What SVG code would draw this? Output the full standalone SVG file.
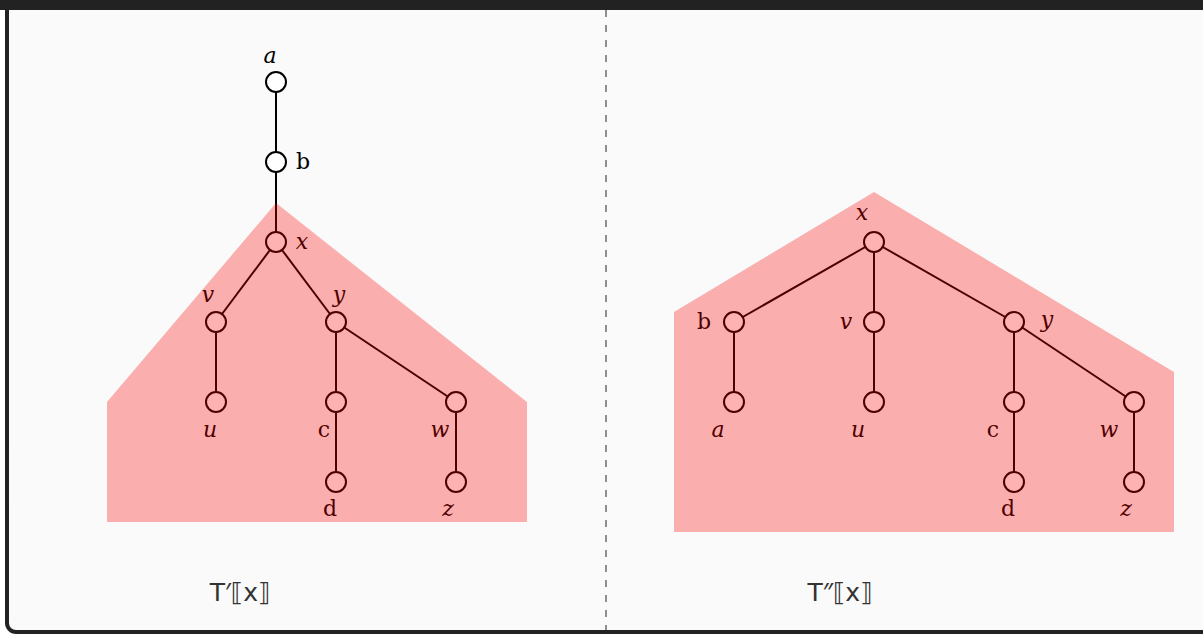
<svg xmlns="http://www.w3.org/2000/svg" width="1203" height="635" viewBox="0 0 1203 635">
<style>
.edge{stroke:#000;stroke-width:2;fill:none}
.node circle{fill:#fff;stroke:#000;stroke-width:2}
.lbl{font-family:"DejaVu Serif","Liberation Serif",serif;font-size:22px;fill:#000;text-anchor:middle}
.it{font-style:italic}
.cap{font-family:"DejaVu Sans","Liberation Sans",sans-serif;font-size:25px;fill:#333;text-anchor:middle}
.pr{font-family:"Noto Sans","DejaVu Sans",sans-serif}
.hl{fill:#ff0000;fill-opacity:0.3}
</style>
<rect x="0" y="0" width="1203" height="635" fill="#fff"/>
<rect x="7" y="-10" width="1210" height="642" rx="9" fill="#fafafa" stroke="#222" stroke-width="4"/>
<rect x="0" y="0" width="1203" height="10" fill="#222"/>
<line x1="606" y1="10" x2="606" y2="632" stroke="#222" stroke-width="1" stroke-dasharray="7,8"/>
<g id="connectors">
<line class="edge" x1="276" y1="82" x2="276" y2="162"/>
<line class="edge" x1="276" y1="162" x2="276" y2="242"/>
<line class="edge" x1="276" y1="242" x2="216" y2="322"/>
<line class="edge" x1="276" y1="242" x2="336" y2="322"/>
<line class="edge" x1="216" y1="322" x2="216" y2="402"/>
<line class="edge" x1="336" y1="322" x2="336" y2="402"/>
<line class="edge" x1="336" y1="322" x2="456" y2="402"/>
<line class="edge" x1="336" y1="402" x2="336" y2="482"/>
<line class="edge" x1="456" y1="402" x2="456" y2="482"/>
<line class="edge" x1="874" y1="242" x2="734" y2="322"/>
<line class="edge" x1="874" y1="242" x2="874" y2="322"/>
<line class="edge" x1="874" y1="242" x2="1014" y2="322"/>
<line class="edge" x1="734" y1="322" x2="734" y2="402"/>
<line class="edge" x1="874" y1="322" x2="874" y2="402"/>
<line class="edge" x1="1014" y1="322" x2="1014" y2="402"/>
<line class="edge" x1="1014" y1="322" x2="1134" y2="402"/>
<line class="edge" x1="1014" y1="402" x2="1014" y2="482"/>
<line class="edge" x1="1134" y1="402" x2="1134" y2="482"/>
</g>
<g id="L-a" class="node"><circle cx="276" cy="82" r="10"/><text class="lbl it" x="270" y="63">a</text></g>
<g id="L-b" class="node"><circle cx="276" cy="162" r="10"/><text class="lbl" x="303" y="169">b</text></g>
<g id="L-x" class="node"><circle cx="276" cy="242" r="10"/><text class="lbl it" x="302" y="249">x</text></g>
<g id="L-v" class="node"><circle cx="216" cy="322" r="10"/><text class="lbl it" x="208" y="302">v</text></g>
<g id="L-y" class="node"><circle cx="336" cy="322" r="10"/><text class="lbl it" x="339" y="302">y</text></g>
<g id="L-u" class="node"><circle cx="216" cy="402" r="10"/><text class="lbl it" x="210" y="437">u</text></g>
<g id="L-c" class="node"><circle cx="336" cy="402" r="10"/><text class="lbl" x="324" y="437">c</text></g>
<g id="L-w" class="node"><circle cx="456" cy="402" r="10"/><text class="lbl it" x="440" y="437">w</text></g>
<g id="L-d" class="node"><circle cx="336" cy="482" r="10"/><text class="lbl" x="330" y="516">d</text></g>
<g id="L-z" class="node"><circle cx="456" cy="482" r="10"/><text class="lbl it" x="448" y="516">z</text></g>
<g id="R-x" class="node"><circle cx="874" cy="242" r="10"/><text class="lbl it" x="862" y="220">x</text></g>
<g id="R-b" class="node"><circle cx="734" cy="322" r="10"/><text class="lbl" x="704" y="329">b</text></g>
<g id="R-v" class="node"><circle cx="874" cy="322" r="10"/><text class="lbl it" x="846" y="329">v</text></g>
<g id="R-y" class="node"><circle cx="1014" cy="322" r="10"/><text class="lbl it" x="1047" y="327">y</text></g>
<g id="R-a" class="node"><circle cx="734" cy="402" r="10"/><text class="lbl it" x="718" y="437">a</text></g>
<g id="R-u" class="node"><circle cx="874" cy="402" r="10"/><text class="lbl it" x="858" y="437">u</text></g>
<g id="R-c" class="node"><circle cx="1014" cy="402" r="10"/><text class="lbl" x="993" y="437">c</text></g>
<g id="R-w" class="node"><circle cx="1134" cy="402" r="10"/><text class="lbl it" x="1109" y="437">w</text></g>
<g id="R-d" class="node"><circle cx="1014" cy="482" r="10"/><text class="lbl" x="1008" y="516">d</text></g>
<g id="R-z" class="node"><circle cx="1134" cy="482" r="10"/><text class="lbl it" x="1126" y="516">z</text></g>
<polygon id="hl-left" class="hl" points="276,203 527,402 527,522 107,522 107,402"/>
<polygon id="hl-right" class="hl" points="874,192 1174,372 1174,532 674,532 674,312"/>
<text class="cap" x="240" y="601">T<tspan class="pr">′</tspan>⟦x⟧</text>
<text class="cap" x="840" y="601">T<tspan class="pr">″</tspan>⟦x⟧</text>
</svg>
